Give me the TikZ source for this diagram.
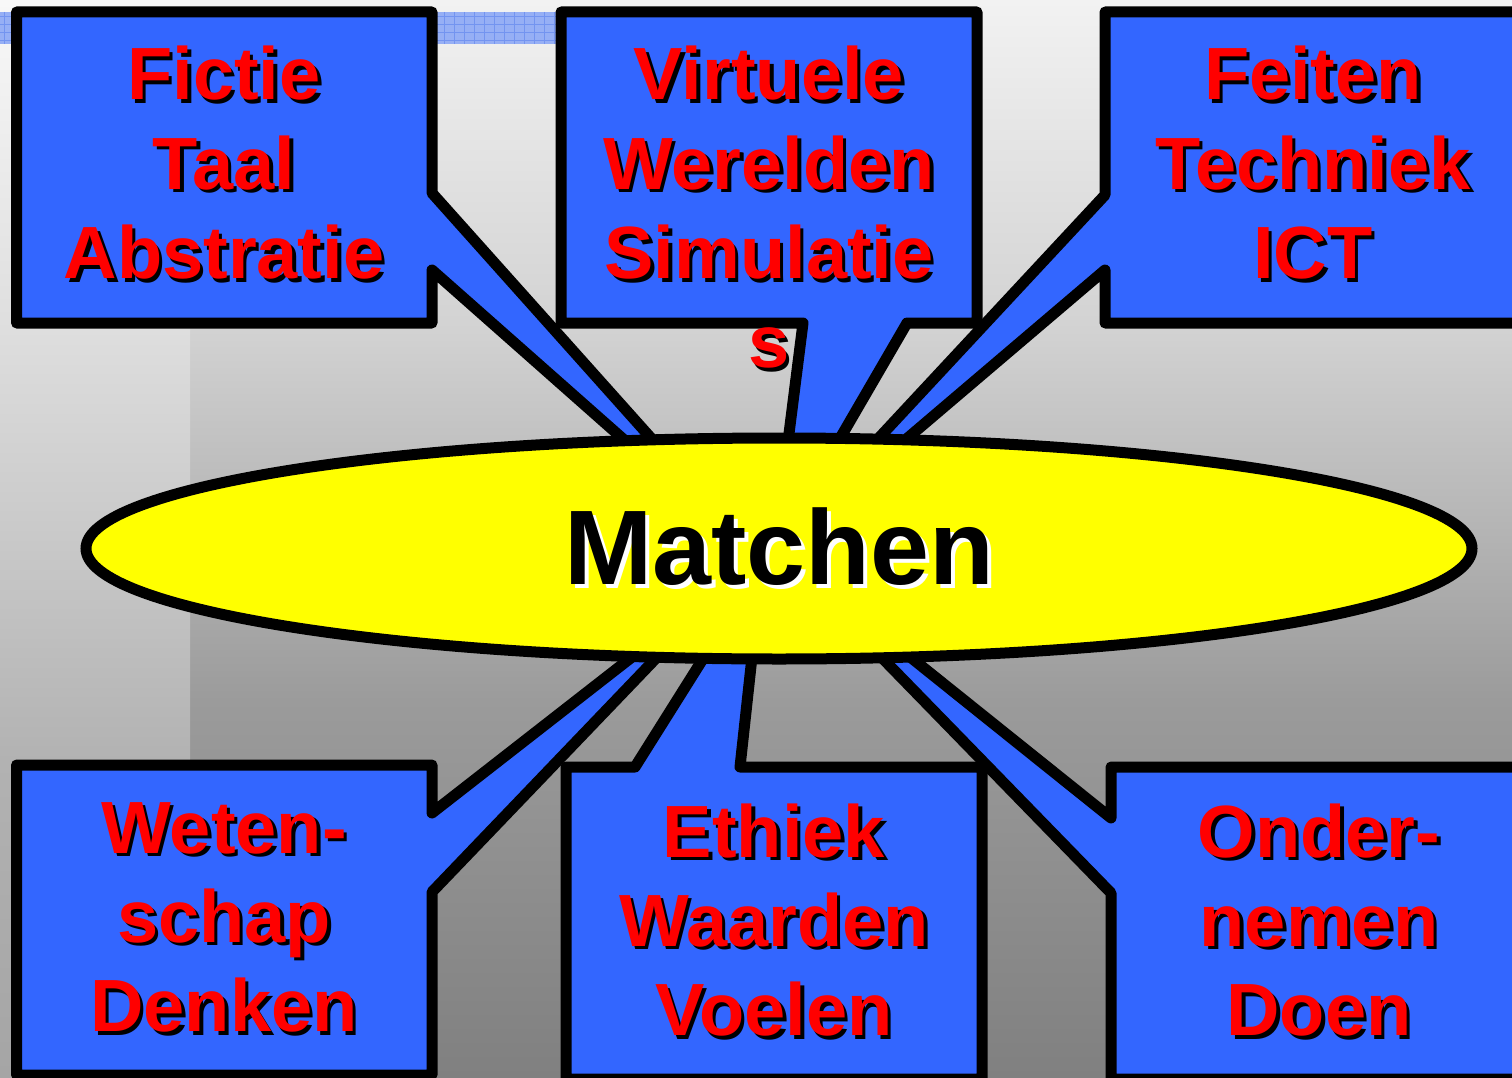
\documentclass[tikz,border=0pt]{standalone}
\usepackage{fontspec}
\setmainfont{Liberation Sans}
\usetikzlibrary{shapes.geometric}
\definecolor{boxblue}{HTML}{3366FF}
\definecolor{txtred}{HTML}{FF0000}
\definecolor{ellyellow}{HTML}{FFFF00}
\definecolor{bandblue}{RGB}{150,175,245}
\definecolor{gridblue}{RGB}{115,148,240}
\definecolor{bgA}{RGB}{242,242,242}
\definecolor{bgB}{RGB}{210,210,210}
\definecolor{bgC}{RGB}{155,155,155}
\definecolor{bgD}{RGB}{128,128,128}
\definecolor{stA}{RGB}{248,248,248}
\definecolor{stB}{RGB}{222,222,222}
\definecolor{stC}{RGB}{178,178,178}
\definecolor{stD}{RGB}{165,165,165}
\tikzset{
  callout/.style={fill=boxblue, draw=black, line width=11pt, line join=round},
  lbl/.style={anchor=base, font=\bfseries\fontsize{74}{89}\selectfont, inner sep=0pt, text=txtred},
  lblshadow/.style={lbl, text=black, xshift=3.5pt, yshift=-3.5pt},
  bigl/.style={anchor=base, font=\bfseries\fontsize{106}{127}\selectfont, inner sep=0pt, text=black},
  bigshadow/.style={bigl, text=white, xshift=4pt, yshift=-4pt},
}
\newcommand{\shtext}[4]{%
  \node[lblshadow] (#1s) at (#2,#3) {#4};
  \node[lbl] (#1) at (#2,#3) {#4};
}
\begin{document}
\begin{tikzpicture}[x=1pt, y=-1pt]
\useasboundingbox (0,0) rectangle (1512,1078);
% background
\shade[top color=bgA, bottom color=bgB] (0,0) rectangle (1512,330.5);
\shade[top color=bgB, bottom color=bgC] (0,330) rectangle (1512,700.5);
\shade[top color=bgC, bottom color=bgD] (0,700) rectangle (1512,1078);
\shade[top color=stA, bottom color=stB] (0,0) rectangle (190,330.5);
\shade[top color=stB, bottom color=stC] (0,330) rectangle (190,760.5);
\shade[top color=stC, bottom color=stD] (0,760) rectangle (190,1078);
% blue band
\fill[bandblue] (0,12) rectangle (557,44);
\foreach \gx in {4,14,...,557} \draw[gridblue, line width=0.8pt] (\gx,12) -- (\gx,44);
\foreach \gy in {16,24,...,44} \draw[gridblue, line width=0.8pt] (0,\gy) -- (557,\gy);
% callouts
\path[callout] (561,12) -- (977,12) -- (977,323) -- (907,323) -- (774,552) -- (803,323) -- (561,323) -- cycle;
\path[callout] (566,767) -- (635,767) -- (762,565) -- (740,767) -- (982,767) -- (982,1079) -- (566,1079) -- cycle;
\path[callout] (16.5,12) -- (432,12) -- (432,193) -- (760,560) -- (432,270) -- (432,323) -- (16.5,323) -- cycle;
\path[callout] (1105,12) -- (1521,12) -- (1521,323) -- (1105,323) -- (1105,270) -- (769,556) -- (1105,195) -- cycle;
\path[callout] (16.5,765) -- (432,765) -- (432,813) -- (732,579) -- (432,892) -- (432,1075) -- (16.5,1075) -- cycle;
\path[callout] (1111,767) -- (1527,767) -- (1527,1079) -- (1111,1079) -- (1111,893) -- (778,551) -- (1111,818) -- cycle;
% ellipse
\node[ellipse, draw=black, line width=11pt, fill=ellyellow, minimum width=1386pt, minimum height=221pt, inner sep=0pt] (ell) at (779,548.5) {};
\node[bigshadow] (matchs) at (779,584) {Matchen};
\node[bigl] (match) at (779,584) {Matchen};
% texts top
\shtext{t1a}{224}{100}{Fictie}
\shtext{t1b}{224}{189.3}{Taal}
\shtext{t1c}{224}{278.6}{Abstratie}
\shtext{t2a}{769}{100}{Virtuele}
\shtext{t2b}{769}{189.3}{Werelden}
\shtext{t2c}{769}{278.6}{Simulatie}
\shtext{t2d}{769}{367.9}{s}
\shtext{t3a}{1313}{100}{Feiten}
\shtext{t3b}{1313}{189.3}{Techniek}
\shtext{t3c}{1313}{278.6}{ICT}
% texts bottom
\shtext{b1a}{224}{853}{Weten-}
\shtext{b1b}{224}{942.3}{schap}
\shtext{b1c}{224}{1031.6}{Denken}
\shtext{b2a}{774}{857}{Ethiek}
\shtext{b2b}{774}{946.3}{Waarden}
\shtext{b2c}{774}{1035.6}{Voelen}
\shtext{b3a}{1319}{857}{Onder-}
\shtext{b3b}{1319}{946.3}{nemen}
\shtext{b3c}{1319}{1035.6}{Doen}
\end{tikzpicture}
\end{document}
